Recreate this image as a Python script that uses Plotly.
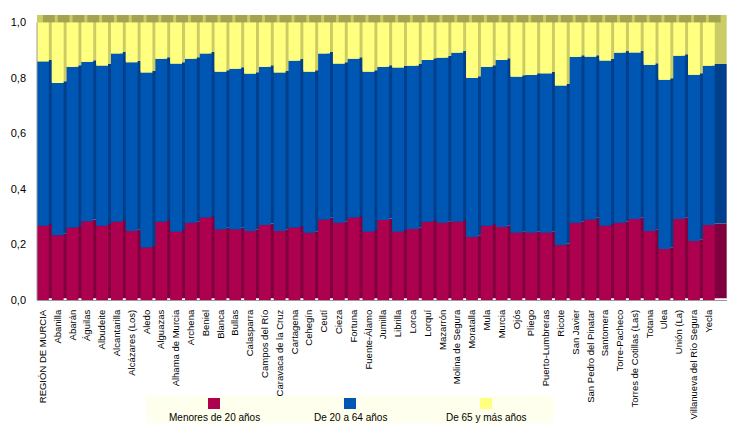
import plotly.graph_objects as go

# Población por grandes grupos de edad (proporción sobre el total)
municipios = [
    "REGIÓN DE MURCIA", "Abanilla", "Abarán", "Águilas", "Albudeite", "Alcantarilla",
    "Alcázares (Los)", "Aledo", "Alguazas", "Alhama de Murcia", "Archena", "Beniel",
    "Blanca", "Bullas", "Calasparra", "Campos del Río", "Caravaca de la Cruz",
    "Cartagena", "Cehegín", "Ceutí", "Cieza", "Fortuna", "Fuente-Álamo", "Jumilla",
    "Librilla", "Lorca", "Lorquí", "Mazarrón", "Molina de Segura", "Moratalla", "Mula",
    "Murcia", "Ojós", "Pliego", "Puerto-Lumbreras", "Ricote", "San Javier",
    "San Pedro del Pinatar", "Santomera", "Torre-Pacheco", "Torres de Cotillas (Las)",
    "Totana", "Ulea", "Unión (La)", "Villanueva del Río Segura", "Yecla",
]
menores_20 = [
    0.268, 0.233, 0.261, 0.284, 0.268, 0.282, 0.249, 0.189, 0.282, 0.246, 0.278, 0.297,
    0.254, 0.254, 0.249, 0.270, 0.249, 0.261, 0.242, 0.290, 0.278, 0.297, 0.246, 0.288,
    0.246, 0.256, 0.282, 0.278, 0.282, 0.227, 0.268, 0.263, 0.242, 0.242, 0.242, 0.198,
    0.278, 0.290, 0.268, 0.278, 0.292, 0.249, 0.184, 0.292, 0.213, 0.270,
]
de_20_a_64 = [
    0.591, 0.549, 0.579, 0.574, 0.576, 0.606, 0.607, 0.630, 0.587, 0.605, 0.591, 0.591,
    0.568, 0.579, 0.566, 0.570, 0.570, 0.601, 0.580, 0.598, 0.573, 0.572, 0.576, 0.552,
    0.591, 0.588, 0.583, 0.595, 0.609, 0.573, 0.572, 0.602, 0.562, 0.569, 0.574, 0.574,
    0.598, 0.586, 0.594, 0.613, 0.599, 0.598, 0.609, 0.588, 0.598, 0.574,
]
de_65_mas = [
    0.141, 0.218, 0.160, 0.142, 0.156, 0.112, 0.144, 0.181, 0.131, 0.149, 0.131, 0.112,
    0.178, 0.167, 0.185, 0.160, 0.181, 0.138, 0.178, 0.112, 0.149, 0.131, 0.178, 0.160,
    0.163, 0.156, 0.135, 0.127, 0.109, 0.200, 0.160, 0.135, 0.196, 0.189, 0.184, 0.228,
    0.124, 0.124, 0.138, 0.109, 0.109, 0.153, 0.207, 0.120, 0.189, 0.156,
]

# (nombre, valores, color frontal, color lateral)
series = [
    ("Menores de 20 años", menores_20, "#ad004f", "#80003f"),
    ("De 20 a 64 años", de_20_a_64, "#0057b3", "#003f8c"),
    ("De 65 y más años", de_65_mas, "#ffff80", "#cccc66"),
]
TOP_COLOR = "#a3a352"
DEPTH = 0.027      # profundidad del efecto 3D (unidades del eje y)
SIDE_RISE = 0.006  # subida de la cara lateral visible entre barras

x = list(range(len(municipios)))

# bases acumuladas de cada tramo
bases = []
acc = [0.0] * len(x)
for _, vals, _, _ in series:
    bases.append(list(acc))
    acc = [a + v for a, v in zip(acc, vals)]
totals = acc

fig = go.Figure()

# caras laterales (más oscuras)
for i, (name, vals, front, side) in enumerate(series):
    if i == len(series) - 1:
        heights = [t + DEPTH - (b + SIDE_RISE) for t, b in zip(totals, bases[i])]
    else:
        heights = vals
    fig.add_trace(go.Bar(
        x=x, y=heights, base=[b + SIDE_RISE for b in bases[i]],
        width=1.61, offset=-0.5, marker=dict(color=side, line=dict(width=0)),
        showlegend=False, hoverinfo="skip",
    ))

# cara superior
fig.add_trace(go.Bar(
    x=x, y=[DEPTH] * len(x), base=totals,
    width=0.8, offset=-0.1, marker=dict(color=TOP_COLOR, line=dict(width=0)),
    showlegend=False, hoverinfo="skip",
))

# caras frontales
for i, (name, vals, front, side) in enumerate(series):
    fig.add_trace(go.Bar(
        x=x, y=vals, base=bases[i], name=name,
        width=0.8, offset=-0.5, marker=dict(color=front, line=dict(width=0)),
        showlegend=False,
    ))

# la página añade 8 px de margen al cuerpo: la figura se reduce en la misma medida
PAGE = 8
W, H = 737 - PAGE, 426 - PAGE
L, R, T, B = 37 - PAGE, 10, 15 - PAGE, 126
pw, ph = W - L - R, H - T - B


def px_x(p):
    return (p - PAGE - L) / pw


def px_y(p):
    return (H - B - (p - PAGE)) / ph


# leyenda manual: cuadro encima del texto
shapes = [
    dict(type="rect", xref="paper", yref="paper",
         x0=px_x(146), x1=px_x(554), y0=px_y(423), y1=px_y(396),
         fillcolor="#ffffee", line=dict(width=0), layer="below"),
    dict(type="line", xref="paper", yref="y", x0=0, x1=0, y0=0, y1=1,
         line=dict(color="#999999", width=1)),
]
annotations = []
for (name, vals, front, side), cx in zip(series, [214, 350, 486]):
    shapes.append(dict(type="rect", xref="paper", yref="paper",
                       x0=px_x(cx - 6), x1=px_x(cx + 6), y0=px_y(409), y1=px_y(398),
                       fillcolor=front, line=dict(width=0)))
    annotations.append(dict(text=name, xref="paper", yref="paper", x=px_x(cx), y=px_y(417),
                            showarrow=False, xanchor="center", yanchor="middle",
                            font=dict(size=10, color="black")))

fig.update_layout(
    width=W, height=H,
    margin=dict(l=L, r=R, t=T, b=B, autoexpand=False),
    barmode="overlay",
    plot_bgcolor="white", paper_bgcolor="white",
    separators=",.",
    font=dict(family="Liberation Sans, Arial, sans-serif", size=11, color="black"),
    shapes=shapes,
    annotations=annotations,
    xaxis=dict(
        range=[-0.5, 46.13],
        tickmode="array", tickvals=[v - 0.1 for v in x], ticktext=municipios,
        tickangle=-90, tickfont=dict(size=9.5), ticks="",
        ticklabelstandoff=5, automargin=False,
        showgrid=False, zeroline=False, showline=True, linecolor="#999999", linewidth=1,
    ),
    yaxis=dict(
        range=[0, 1 + DEPTH],
        tickmode="array", tickvals=[0, 0.2, 0.4, 0.6, 0.8, 1.0], tickformat=".1f",
        ticks="", ticklabelstandoff=10, automargin=False,
        showgrid=False, zeroline=False, showline=False,
    ),
    yaxis2=dict(
        overlaying="y", side="right", range=[-0.0252, 1.0025],
        tickmode="array", tickvals=[0, 0.2, 0.4, 0.6, 0.8, 1.0],
        ticks="inside", ticklen=4, tickcolor="#999999", showticklabels=False,
        showgrid=False, zeroline=False, showline=False, automargin=False,
    ),
)

fig.write_html("out.html")
